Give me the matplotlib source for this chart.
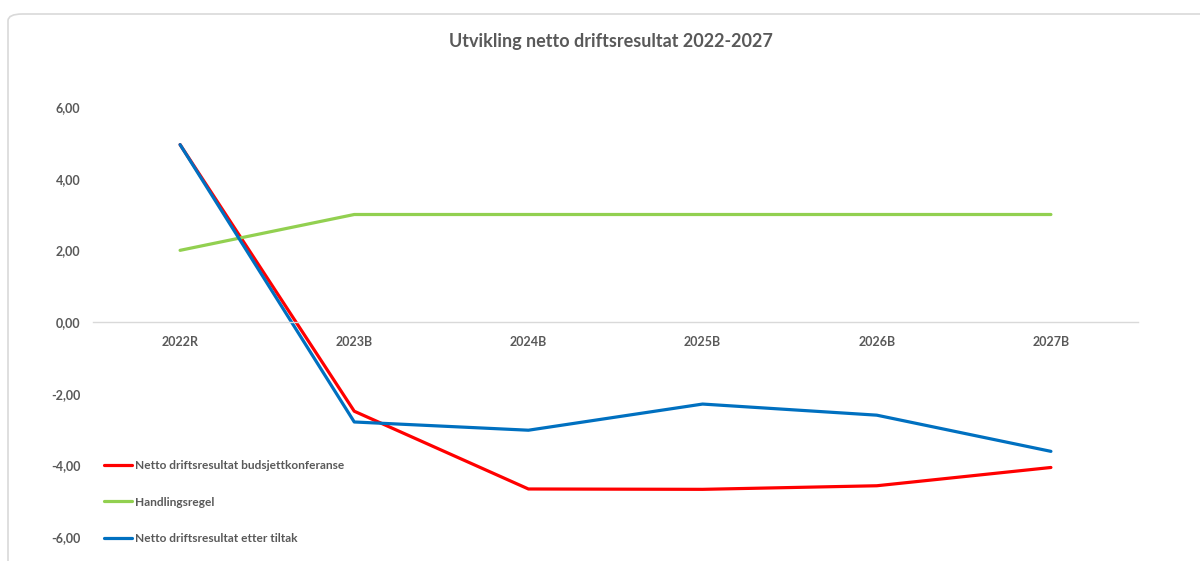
import numpy as np
import matplotlib.pyplot as plt
from matplotlib.patches import FancyBboxPatch

# Data
aar = ['2022R', '2023B', '2024B', '2025B', '2026B', '2027B']
budsjettkonferanse = [4.95, -2.49, -4.66, -4.67, -4.57, -4.06]
handlingsregel = [2.0, 3.0, 3.0, 3.0, 3.0, 3.0]
etter_tiltak = [4.95, -2.79, -3.02, -2.29, -2.60, -3.61]

grå = '#595959'
plt.rcParams['font.family'] = ['Lato', 'DejaVu Sans']
plt.rcParams['font.weight'] = 'bold'

fig = plt.figure(figsize=(12, 5.61), dpi=100)

# ramme rundt diagrammet
ramme = FancyBboxPatch((8 / 1200, -0.05), 1.1, 1 - 14 / 561 + 0.05,
                       boxstyle='round,pad=0,rounding_size=0.012',
                       transform=fig.transFigure, facecolor='white',
                       edgecolor='#d9d9d9', linewidth=1.2, zorder=-5)
fig.patches.append(ramme)

ax = fig.add_axes([93 / 1200, 1 - 537 / 561, (1138 - 93) / 1200, (537 - 107) / 561])
ax.patch.set_alpha(0)

x = np.arange(len(aar))
ax.plot(x, budsjettkonferanse, color='#FF0000', lw=2.3, label='Netto driftsresultat budsjettkonferanse',
        solid_capstyle='round')
ax.plot(x, handlingsregel, color='#92D050', lw=2.3, label='Handlingsregel', solid_capstyle='round')
ax.plot(x, etter_tiltak, color='#0070C0', lw=2.3, label='Netto driftsresultat etter tiltak',
        solid_capstyle='round')

ax.set_xlim(-0.5, len(aar) - 0.5)
ax.set_ylim(-6, 6)
ax.set_yticks(np.arange(-6, 7, 2))
ax.set_yticklabels([f'{v:.2f}'.replace('.', ',') for v in np.arange(-6, 7, 2)])
ax.set_xticks(x)
ax.set_xticklabels(aar)

for s in ['top', 'right', 'left']:
    ax.spines[s].set_visible(False)
ax.spines['bottom'].set_position(('data', 0))
ax.spines['bottom'].set_color('#d9d9d9')
ax.spines['bottom'].set_linewidth(1)

ax.tick_params(axis='both', length=0, labelsize=9, labelcolor=grå)
ax.tick_params(axis='x', pad=10)
ax.tick_params(axis='y', pad=9)

fig.text(611 / 1200, 1 - 41 / 561, 'Utvikling netto driftsresultat 2022-2027', ha='center', va='center',
         fontsize=13, fontweight='bold', color=grå)

ax.legend(loc='lower left', bbox_to_anchor=(0.0, -0.042), frameon=False, fontsize=8.6,
          handlelength=2.4, handletextpad=0.25, labelspacing=2.15, labelcolor=grå)

fig.savefig('out.png', dpi=100)
